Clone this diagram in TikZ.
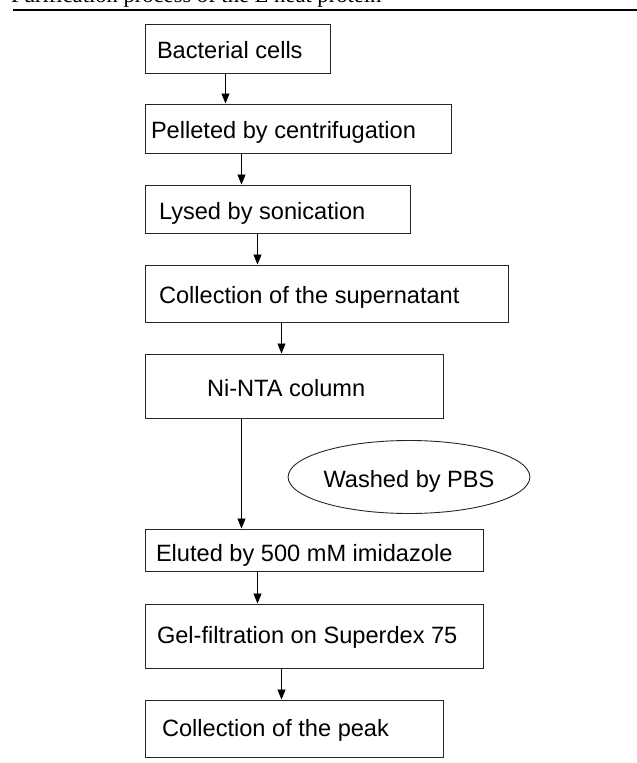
\documentclass[tikz,border=0pt]{standalone}
\usepackage{fontspec}
\setmainfont{Liberation Sans}
\newfontfamily\titlefont{Liberation Serif}
\usetikzlibrary{arrows.meta,shapes.geometric}
\newcommand\lbox[2]{\makebox[#1pt][l]{#2}}
\begin{document}
\begin{tikzpicture}[x=1pt,y=-1pt,
  box/.style={draw=black!85, line width=1pt, rectangle, inner ysep=0pt, text depth=0pt,
    font=\fontsize{23.6}{28}\selectfont},
  oval/.style={draw=black!85, line width=0.9pt, ellipse, inner sep=0pt, text depth=0pt,
    font=\fontsize{23.6}{28}\selectfont},
  arr/.style={line width=0.8pt, -{Triangle[length=10pt,width=8pt]}},
  titlestyle/.style={inner sep=0pt, anchor=base west, font=\titlefont\fontsize{22.6}{26}\selectfont}]
\useasboundingbox (0,0) rectangle (637,763);
\node[titlestyle] (title) at (11,2.5) {Purification process of the E heat protein};
\draw[line width=2pt] (13,10) -- (637,10);

\node[box, minimum width=185pt, minimum height=49pt, inner xsep=12pt, text height=19pt] (b1) at (237.5,48.5) {\lbox{161}{Bacterial cells}};
\node[box, minimum width=306pt, minimum height=49pt, inner xsep=6pt, text height=19pt] (b2) at (298,128.5) {\lbox{294}{Pelleted by centrifugation}};
\node[box, minimum width=265pt, minimum height=48pt, inner xsep=14pt, text height=20pt] (b3) at (277.5,209) {\lbox{237}{Lysed by sonication}};
\node[box, minimum width=363pt, minimum height=57pt, inner xsep=14pt, text height=19pt] (b4) at (326.5,293.5) {\lbox{335}{Collection of the supernatant}};
\node[box, minimum width=298pt, minimum height=64pt, inner xsep=62pt, text height=20pt] (b5) at (294,386) {\lbox{174}{Ni-NTA column}};
\node[oval, minimum width=206pt, minimum height=73pt, text height=20pt] (wash) at (409,477) {Washed by PBS};
\node[box, minimum width=338pt, minimum height=42pt, inner xsep=11pt, text height=22pt] (b6) at (314,550) {\lbox{316}{Eluted by 500 mM imidazole}};
\node[box, minimum width=338pt, minimum height=64pt, inner xsep=12pt, text height=14pt] (b7) at (314,636) {\lbox{314}{Gel-filtration on Superdex 75}};
\node[box, minimum width=298pt, minimum height=57pt, inner xsep=17pt, text height=15pt] (b8) at (294,728.5) {\lbox{264}{Collection of the peak}};

\draw[arr] ([xshift=81pt]b1.south west) -- ([xshift=81pt]b2.north west);
\draw[arr] ([xshift=97pt]b2.south west) -- ([xshift=97pt]b3.north west);
\draw[arr] ([xshift=113pt]b3.south west) -- ([xshift=113pt]b4.north west);
\draw[arr] ([xshift=137pt]b4.south west) -- ([xshift=137pt]b5.north west);
\draw[arr] ([xshift=97pt]b5.south west) -- ([xshift=97pt]b6.north west);
\draw[arr] ([xshift=113pt]b6.south west) -- ([xshift=113pt]b7.north west);
\draw[arr] ([xshift=137pt]b7.south west) -- ([xshift=137pt]b8.north west);
\end{tikzpicture}
\end{document}
